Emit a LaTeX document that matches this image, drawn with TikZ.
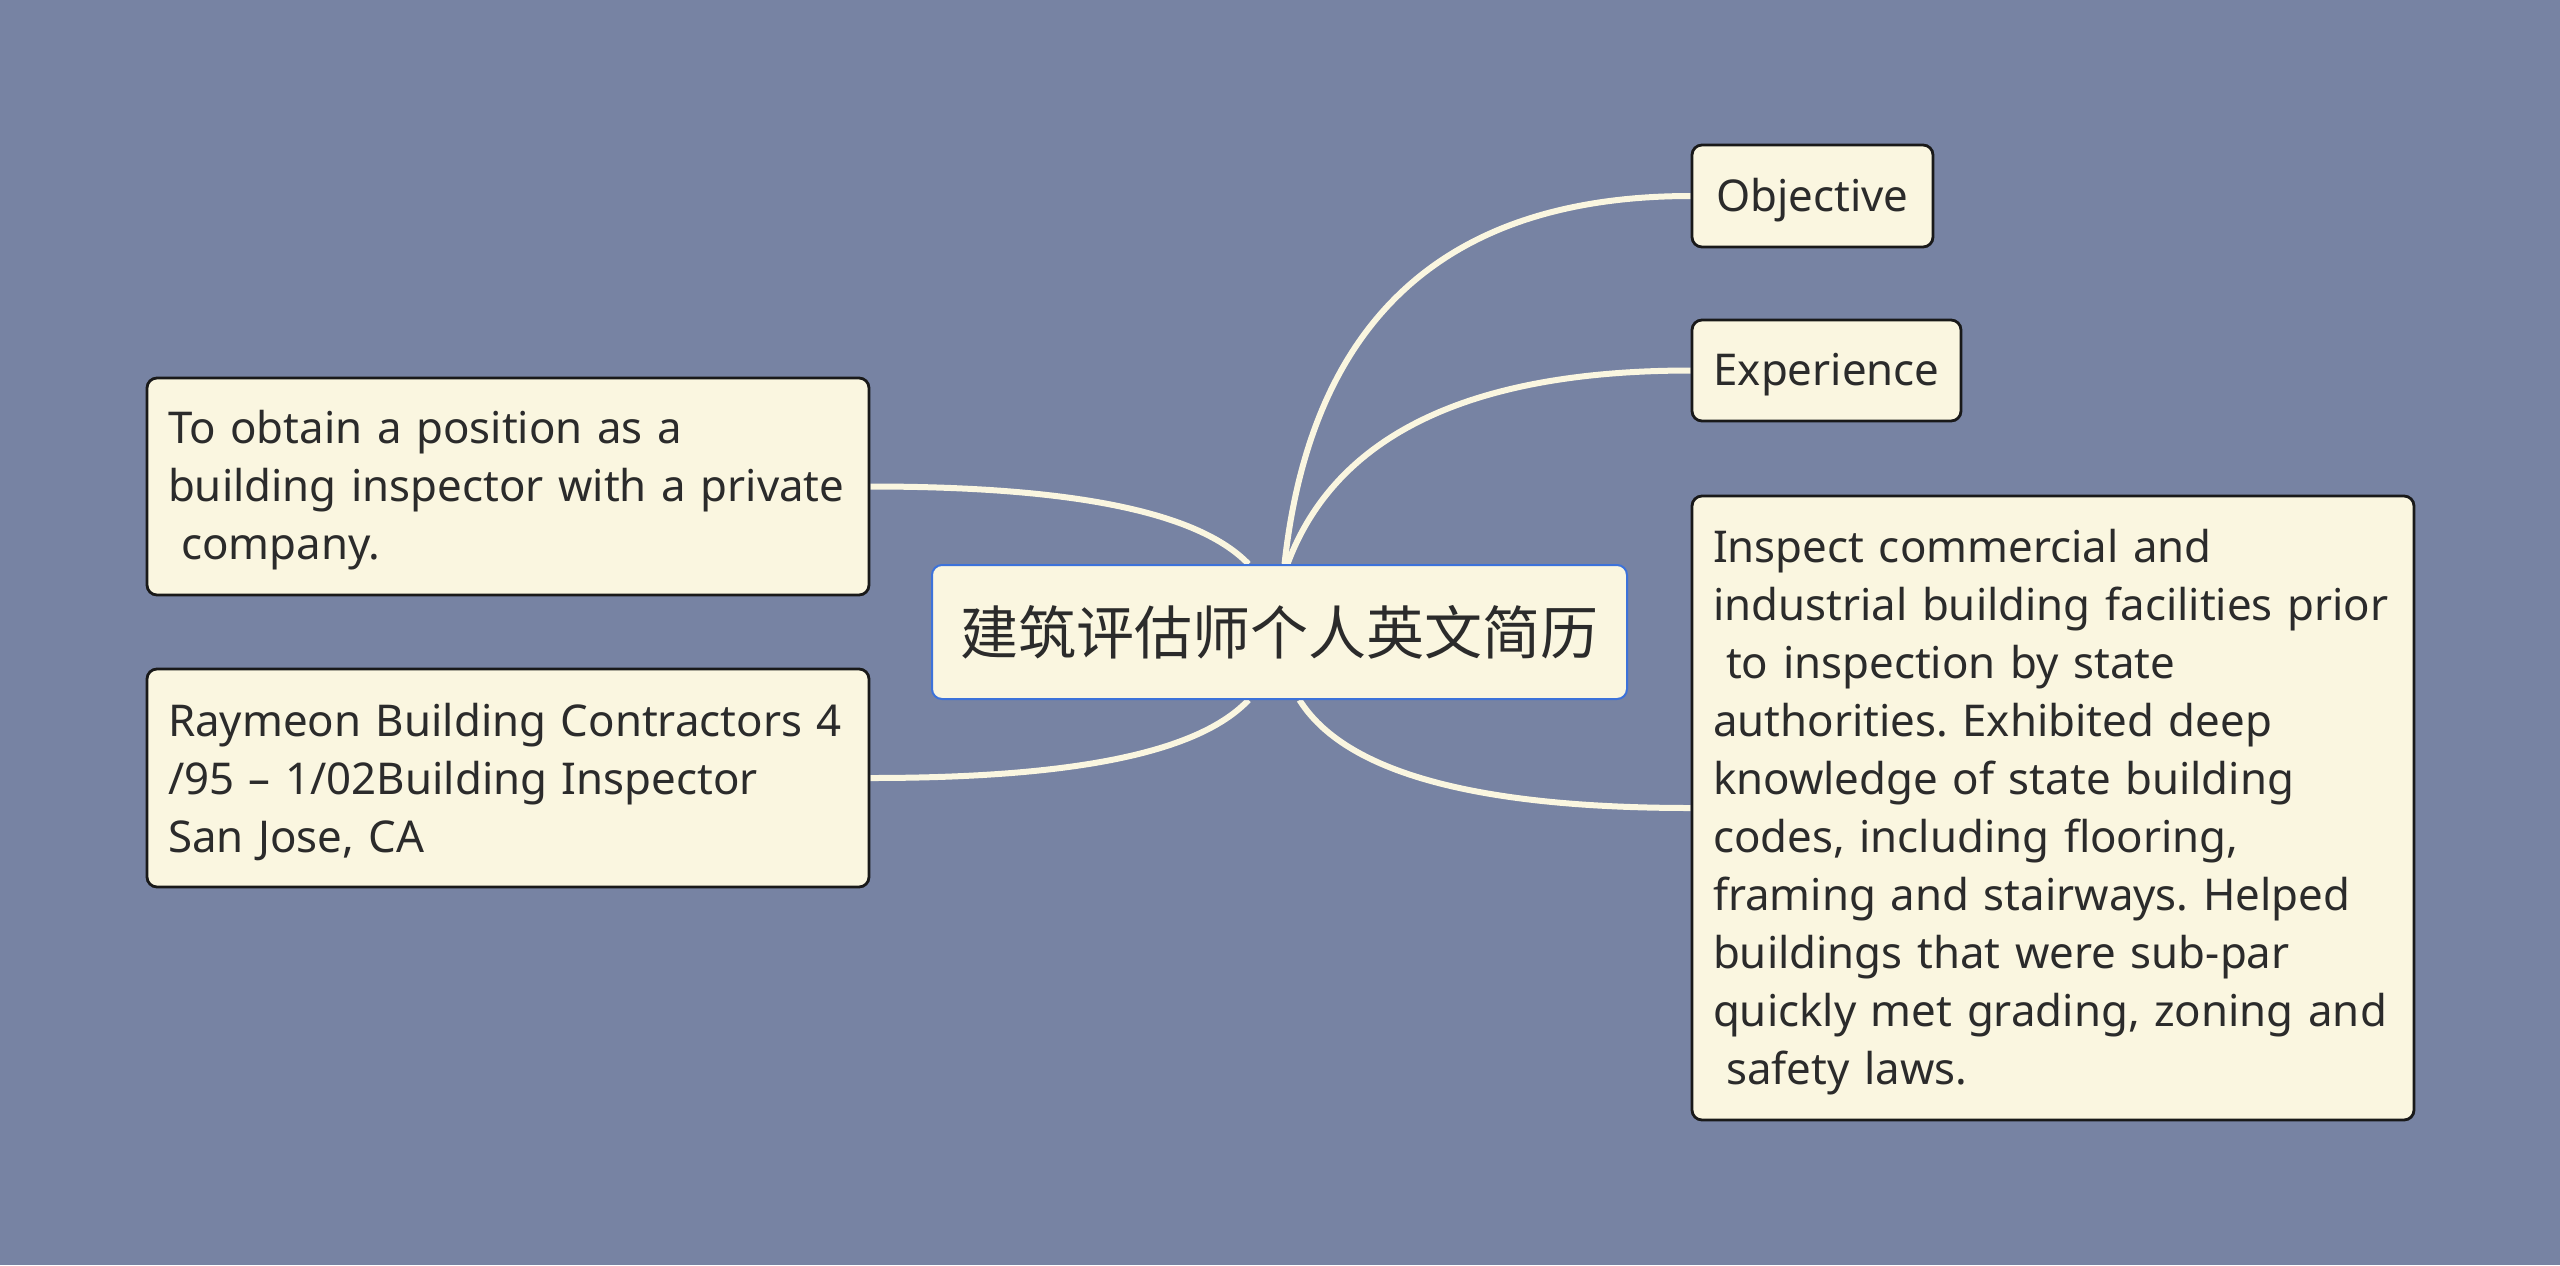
\documentclass[tikz,border=0pt]{standalone}
\usepackage{fontspec}
\setmainfont{Noto Sans}
\newfontfamily\cjkfont{Noto Sans CJK SC}
\usepackage{xcolor}
\usetikzlibrary{positioning,calc,backgrounds}
\frenchspacing

\definecolor{bgblue}{HTML}{7783A3}
\definecolor{cream}{HTML}{FAF6E0}
\definecolor{inkgray}{HTML}{2B2B2B}
\definecolor{rootblue}{HTML}{3C72DA}

\tikzset{
  topic/.style={draw=black!90, line width=1.4pt, fill=cream, rounded corners=5pt,
    text=inkgray, font=\fontsize{21.9}{29}\selectfont, inner xsep=10.5pt, inner ysep=0pt},
  label/.style={topic, text height=20pt, text depth=5pt},
  notebox/.style={topic, align=left, text width=340pt,
    execute at begin node={\rule{0pt}{20.5pt}}},
  root/.style={draw=rootblue, line width=1pt, fill=cream, rounded corners=5pt,
    text=inkgray, font=\cjkfont\fontsize{29}{35}\selectfont},
  branch/.style={draw=cream, line width=3pt}
}

\begin{document}
\begin{tikzpicture}[x=0.5pt, y=-0.5pt]
  \useasboundingbox (0,0) rectangle (2560,1265);

  % Central topic
  \node[root, minimum width=347.5pt, minimum height=67pt] (ctr) at (1279.5,632) {建筑评估师个人英文简历};

  % Right side
  \node[label, minimum width=120.5pt, minimum height=51pt] (obj) at (1812.5,196) {Objective};
  \node[label, minimum width=134.5pt, minimum height=50.5pt] (exp) at (1826.5,370.5) {Experience};
  \node[notebox, minimum width=361pt, minimum height=312pt] (duty) at (2053,808)
    {Inspect commercial and\\
     industrial building facilities prior\\
     \hspace*{.3em}to inspection by state\\
     authorities. Exhibited deep\\
     knowledge of state building\\
     codes, including flooring,\\
     framing and stairways. Helped\\
     buildings that were sub-par\\
     quickly met grading, zoning and\\
     \hspace*{.3em}safety laws.};

  % Left side
  \node[notebox, minimum width=361pt, minimum height=108.5pt] (goal) at (508,486.5)
    {To obtain a position as a\\
     building inspector with a private\\
     \hspace*{.3em}company.};
  \node[notebox, minimum width=361pt, minimum height=109pt] (job) at (508,778)
    {Raymeon Building Contractors 4\\
     /95 – 1/02Building Inspector\\
     San Jose, CA};

  % Branches
  \begin{scope}[on background layer]
    \fill[bgblue] (0,0) rectangle (2560,1265);
    \draw[branch] ($(ctr.north)+(5,0)$) .. controls +(27,-245) and +(-245,0) .. (obj.west);
    \draw[branch] ($(ctr.north)+(8,0)$) .. controls +(48,-129) and +(-221,0) .. (exp.west);
    \draw[branch] ($(ctr.south)+(20,0)$) .. controls +(45,72) and +(-216,0) .. (duty.west);
    \draw[branch] ($(ctr.north)+(-31,0)$) .. controls +(-50,-52) and +(203,0) .. (goal.east);
    \draw[branch] ($(ctr.south)+(-31,0)$) .. controls +(-50,53) and +(203,0) .. (job.east);
  \end{scope}
\end{tikzpicture}
\end{document}
